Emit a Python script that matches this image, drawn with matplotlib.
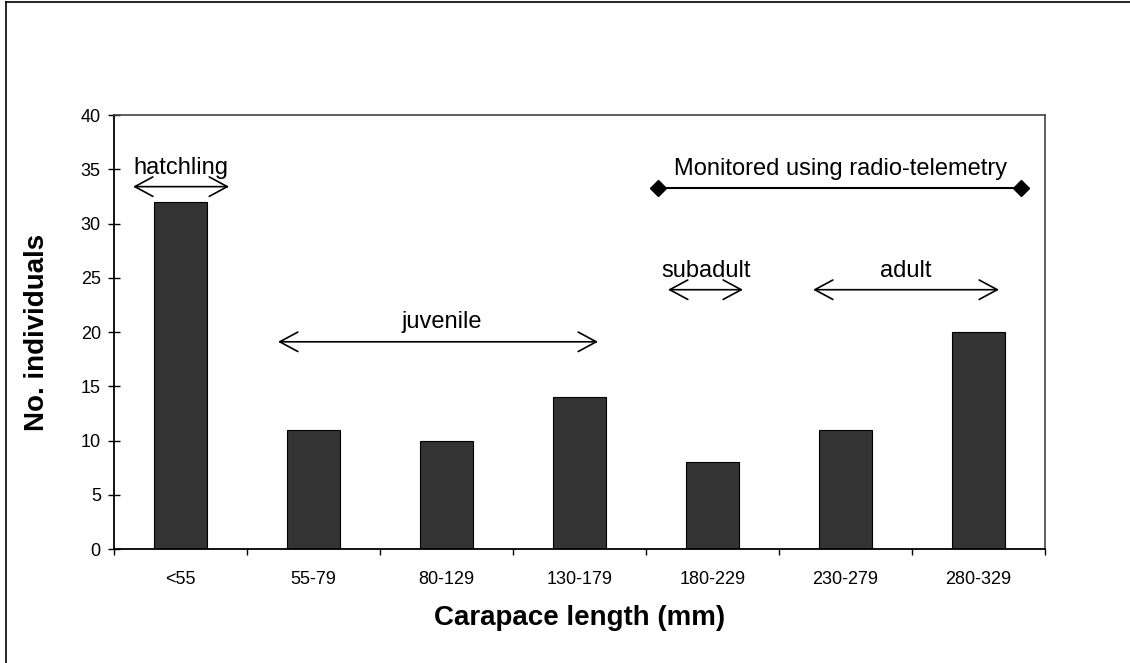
import matplotlib
matplotlib.use('Agg')
import matplotlib.pyplot as plt
from matplotlib.lines import Line2D
import numpy as np

# Carapace length classes and counts
size_classes = ['<55', '55-79', '80-129', '130-179', '180-229', '230-279', '280-329']
counts = [32, 11, 10, 14, 8, 11, 20]

# Stage annotations: label, x start, x end, arrow y, text x, text y
stage_labels = ['hatchling', 'juvenile', 'subadult', 'adult']
stage_x0 = [-0.357, 0.733, 3.665, 4.756]
stage_x1 = [0.365, 3.139, 4.229, 6.154]
stage_y = [33.4, 19.1, 23.9, 23.9]
stage_tx = [0.0, 1.966, 3.95, 5.45]
stage_ty = [34.6, 20.4, 25.1, 25.1]

# Radio-telemetry span
telemetry_x = [3.59, 6.32]
telemetry_y = [33.3, 33.3]

plt.rcParams['font.family'] = ['Liberation Sans', 'DejaVu Sans']

fig = plt.figure(figsize=(11.3, 6.63), dpi=100)
ax = fig.add_axes([0.1009, 0.1719, 0.8239, 0.6546])

x = np.arange(len(size_classes))
ax.bar(x, counts, width=0.4, color='#333333', edgecolor='black', linewidth=0.8, zorder=2)

ax.set_xlim(-0.5, len(size_classes) - 0.5)
ax.set_ylim(0, 40)
ax.set_yticks(range(0, 41, 5))
ax.set_xticks(x)
ax.set_xticklabels(size_classes)
ax.set_xticks(np.arange(-0.5, len(size_classes), 1.0), minor=True)
ax.tick_params(axis='x', which='major', length=0, pad=16, labelsize=13)
ax.tick_params(axis='x', which='minor', length=4, width=1, direction='out', color='black')
ax.tick_params(axis='y', direction='inout', length=9, width=1, pad=5, labelsize=13)

for side in ['left', 'bottom']:
    ax.spines[side].set_linewidth(1.3)
    ax.spines[side].set_color('black')
for side in ['top', 'right']:
    ax.spines[side].set_linewidth(1.2)
    ax.spines[side].set_color('#444444')

ax.set_xlabel('Carapace length (mm)', fontsize=20, fontweight='bold', labelpad=12)
ax.set_ylabel('No. individuals', fontsize=20, fontweight='bold', labelpad=22)

for lab, x0, x1, y, tx, ty in zip(stage_labels, stage_x0, stage_x1, stage_y, stage_tx, stage_ty):
    ax.annotate('', xy=(x1, y), xytext=(x0, y),
                arrowprops=dict(arrowstyle='<->,head_length=1.3,head_width=0.7',
                                color='black', lw=1.2, shrinkA=0, shrinkB=0))
    ax.text(tx, ty, lab, ha='center', va='baseline', fontsize=17)

ax.plot(telemetry_x, telemetry_y, color='black', lw=1.5, marker='D', markersize=8,
        clip_on=False, zorder=3)
ax.text(np.mean(telemetry_x) + 0.005, 34.5, 'Monitored using radio-telemetry',
        ha='center', va='baseline', fontsize=17)

# outer chart frame (only top and left are inside the image)
fig.add_artist(Line2D([6 / 1130, 6 / 1130], [0, 1 - 2 / 663], color='black', lw=1.2))
fig.add_artist(Line2D([6 / 1130, 1], [1 - 2 / 663, 1 - 2 / 663], color='black', lw=1.2))

fig.savefig('out.png', dpi=100)
